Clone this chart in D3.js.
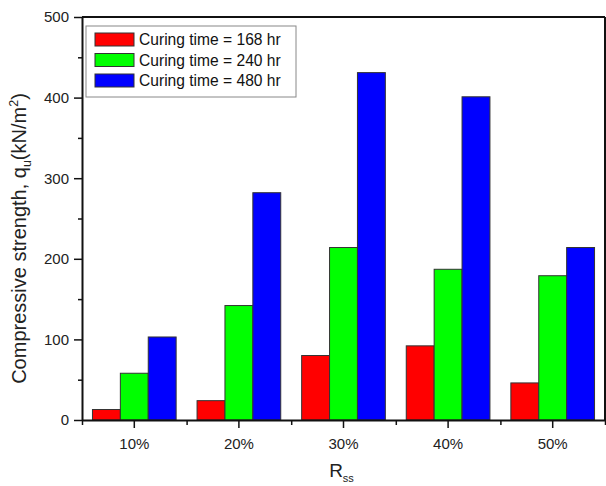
<!DOCTYPE html>
<html>
<head>
<meta charset="utf-8">
<script src="https://cdn.jsdelivr.net/npm/d3@7"></script>
<style>
  html, body { margin: 0; padding: 0; background: #fff; }
  svg { display: block; font-family: "Liberation Sans", Arial, sans-serif; }
</style>
</head>
<body>
<svg id="chart" width="606" height="486"></svg>
<script>
// Compressive strength by sand replacement ratio and curing time
const categories = ["10%", "20%", "30%", "40%", "50%"];
const seriesNames = ["Curing time = 168 hr", "Curing time = 240 hr", "Curing time = 480 hr"];
const cure168 = [13, 24, 80, 92, 46];
const cure240 = [58, 142, 214, 187, 179];
const cure480 = [103, 282, 431, 401, 214];
const seriesColors = ["#ff0000", "#00ff00", "#0000ff"];
const yMajorTicks = [0, 100, 200, 300, 400, 500];
const yMinorTicks = [50, 150, 250, 350, 450];

const seriesValues = [cure168, cure240, cure480];

const svg = d3.select("#chart");
const margin = { left: 82, right: 1, top: 17, bottom: 66 };
const W = 606, H = 486;
const x0 = margin.left, x1 = W - margin.right;
const yTop = margin.top, yBot = H - margin.bottom;

const x = d3.scaleBand().domain(categories).range([x0, x1])
  .paddingInner(0.2).paddingOuter(0.1);
const xSub = d3.scaleBand().domain(d3.range(seriesNames.length)).range([0, x.bandwidth()]);
const y = d3.scaleLinear().domain([0, 500]).range([yBot, yTop]);
// continuous index scale for the minor ticks between categories
const xIdx = d3.scaleLinear().domain([0.5, categories.length + 0.5]).range([x0, x1]);

// bars
const groups = svg.append("g").selectAll("g")
  .data(categories).join("g")
  .attr("transform", c => `translate(${x(c)},0)`);

groups.selectAll("rect")
  .data((c, i) => seriesValues.map((vals, s) => ({ s, v: vals[i] })))
  .join("rect")
  .attr("x", d => xSub(d.s))
  .attr("width", xSub.bandwidth())
  .attr("y", d => y(d.v))
  .attr("height", d => y(0) - y(d.v))
  .attr("fill", d => seriesColors[d.s])
  .attr("stroke", "#333")
  .attr("stroke-width", 1);

// frame: top and right edges
svg.append("line").attr("x1", x0).attr("x2", x1).attr("y1", yTop).attr("y2", yTop)
  .attr("stroke", "#111").attr("stroke-width", 2);
svg.append("line").attr("x1", x1).attr("x2", x1).attr("y1", yTop).attr("y2", yBot)
  .attr("stroke", "#111").attr("stroke-width", 2);

function styleAxis(g) {
  g.selectAll(".domain").attr("stroke", "#111").attr("stroke-width", 2);
  g.selectAll(".tick line").attr("stroke", "#111").attr("stroke-width", 1.5);
  g.selectAll("text").attr("font-size", 15).attr("fill", "#222")
    .attr("font-family", "'Liberation Sans', Arial, sans-serif");
}

// y axis
svg.append("g").attr("transform", `translate(${x0},0)`)
  .call(d3.axisLeft(y).tickValues(yMinorTicks).tickSize(4).tickFormat(""))
  .call(g => g.select(".domain").remove())
  .call(styleAxis);
svg.append("g").attr("transform", `translate(${x0},0)`)
  .call(d3.axisLeft(y).tickValues(yMajorTicks).tickSize(8).tickSizeOuter(0).tickPadding(5))
  .call(styleAxis);

// x axis
svg.append("g").attr("transform", `translate(0,${yBot})`)
  .call(d3.axisBottom(xIdx).tickValues(d3.range(0.5, categories.length + 1, 1)).tickSize(5).tickFormat(""))
  .call(g => g.select(".domain").remove())
  .call(styleAxis);
svg.append("g").attr("transform", `translate(0,${yBot})`)
  .call(d3.axisBottom(x).tickSize(8).tickSizeOuter(0).tickPadding(10))
  .call(styleAxis);

// axis titles
const xt = svg.append("text")
  .attr("x", (x0 + x1) / 2 - 2).attr("y", 477)
  .attr("text-anchor", "middle").attr("font-size", 19).attr("fill", "#222");
xt.append("tspan").text("R");
xt.append("tspan").attr("font-size", 11).attr("dy", 5).text("ss");

const yt = svg.append("text")
  .attr("transform", `translate(26,${(yTop + yBot) / 2 + 20}) rotate(-90)`)
  .attr("text-anchor", "middle").attr("font-size", 20).attr("fill", "#222");
yt.append("tspan").text("Compressive strength, q");
yt.append("tspan").attr("font-size", 12.5).attr("dy", 5).text("u");
yt.append("tspan").attr("dy", -5).text("(kN/m");
yt.append("tspan").attr("font-size", 12.5).attr("dy", -8).text("2");
yt.append("tspan").attr("dy", 8).text(")");

// legend
const lg = svg.append("g").attr("transform", "translate(86,26)");
lg.append("rect").attr("width", 210).attr("height", 71)
  .attr("fill", "#fff").attr("stroke", "#888").attr("stroke-width", 1);
const rows = lg.selectAll("g.row").data(seriesNames).join("g")
  .attr("class", "row")
  .attr("transform", (d, i) => `translate(0,${14 + i * 20.5})`);
rows.append("rect").attr("x", 9).attr("y", -7).attr("width", 39).attr("height", 13)
  .attr("fill", (d, i) => seriesColors[i]).attr("stroke", "#333").attr("stroke-width", 1);
rows.append("text").attr("x", 53).attr("y", 0).attr("dy", "0.35em")
  .attr("font-size", 15.6).attr("fill", "#111").text(d => d);
</script>
</body>
</html>
